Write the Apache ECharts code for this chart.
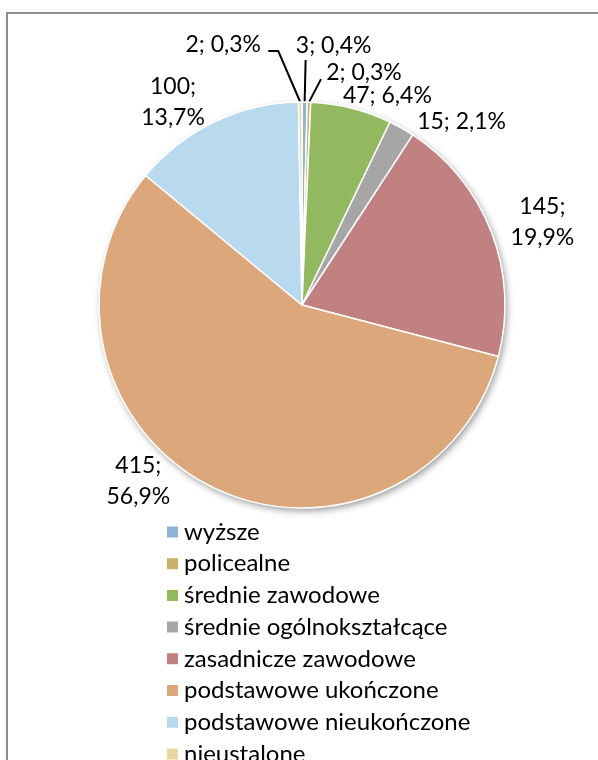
<!DOCTYPE html>
<html lang="pl">
<head>
    <meta charset="UTF-8">
    <title>Wykształcenie</title>
    <script src="https://cdn.jsdelivr.net/npm/echarts@6.0.0/dist/echarts.min.js"></script>
    <style>
        html, body {
            margin: 0;
            padding: 0;
            background: #fff;
            overflow: hidden;
        }
        .frame {
            position: absolute;
            left: 6px;
            top: 12px;
            width: 700px;
            height: 800px;
            border-top: 2px solid #8c8c8c;
            border-left: 2px solid #8c8c8c;
        }
        #chart {
            position: absolute;
            left: 0;
            top: 0;
            width: 598px;
            height: 760px;
        }
    </style>
</head>
<body>
    <div class="frame"></div>
    <div id="chart"></div>
    <script>
        const categories = ['wyższe', 'policealne', 'średnie zawodowe', 'średnie ogólnokształcące',
            'zasadnicze zawodowe', 'podstawowe ukończone', 'podstawowe nieukończone', 'nieustalone'];
        const counts = [3, 2, 47, 15, 145, 415, 100, 2];
        const colors = ['#8db4d3', '#c9b068', '#93b960', '#a6a6a6', '#c08180', '#dca87b', '#b9daee', '#ead6a1'];
        const total = counts.reduce((a, b) => a + b, 0);

        // etykiety w dwóch wierszach
        const wrapped = ['zasadnicze zawodowe', 'podstawowe ukończone', 'podstawowe nieukończone'];
        // przesunięcie środka etykiety względem punktu na brzegu wycinka
        const labelShift = [[29, -56], [55, -30], [36, -13], [60, -7], [51, -10], [-71, -5], [-41, -20], [-77, -57]];
        // linie odniesienia (względem brzegu wycinka)
        const leader = [[[1, -42]], [[12, -23]], null, null, null, null, null, [[-22, -51], [-32, -51]]];

        const font = 'Lato, "Liberation Sans", sans-serif';
        const chart = echarts.init(document.getElementById('chart'));

        chart.setOption({
            animation: false,
            color: colors,
            legend: {
                data: categories,
                orient: 'vertical',
                left: 160,
                top: 515,
                height: 400,
                icon: 'rect',
                itemWidth: 13,
                itemHeight: 13,
                itemGap: 7.7,
                selectedMode: false,
                textStyle: { fontFamily: font, fontSize: 24, lineHeight: 24, color: '#000' }
            },
            series: [
                {
                    // cień pod całym kołem
                    type: 'pie',
                    silent: true,
                    z: 1,
                    center: [302, 305],
                    radius: 203,
                    label: { show: false },
                    labelLine: { show: false },
                    itemStyle: {
                        color: '#fff',
                        shadowBlur: 7,
                        shadowOffsetX: 2,
                        shadowOffsetY: 3,
                        shadowColor: 'rgba(0,0,0,0.4)'
                    },
                    data: [{ name: 'tło', value: total }]
                },
                {
                    type: 'pie',
                    z: 2,
                    center: [302, 305],
                    radius: 203,
                    startAngle: 90,
                    clockwise: true,
                    avoidLabelOverlap: false,
                    emphasis: { disabled: true },
                    itemStyle: { borderColor: '#fff', borderWidth: 1.5 },
                    label: {
                        show: true,
                        position: 'outside',
                        fontFamily: font,
                        fontSize: 23,
                        lineHeight: 31,
                        color: '#000',
                        formatter: function (p) {
                            const pct = (p.value / total * 100).toFixed(1).replace('.', ',');
                            const sep = wrapped.indexOf(p.name) >= 0 ? ';\n' : '; ';
                            return p.value + sep + pct + '%';
                        }
                    },
                    labelLine: {
                        show: true,
                        length: 10,
                        length2: 5,
                        lineStyle: { color: '#000', width: 2 }
                    },
                    labelLayout: function (p) {
                        const p0 = p.labelLinePoints[0];
                        const s = labelShift[p.dataIndex];
                        const l = leader[p.dataIndex];
                        return {
                            x: p0[0] + s[0],
                            y: p0[1] + s[1],
                            align: 'center',
                            verticalAlign: 'middle',
                            labelLinePoints: l
                                ? [p0].concat(l.map(d => [p0[0] + d[0], p0[1] + d[1]]))
                                : [p0, p0]
                        };
                    },
                    data: categories.map((c, i) => ({ name: c, value: counts[i] }))
                }
            ]
        });
    </script>
</body>
</html>
